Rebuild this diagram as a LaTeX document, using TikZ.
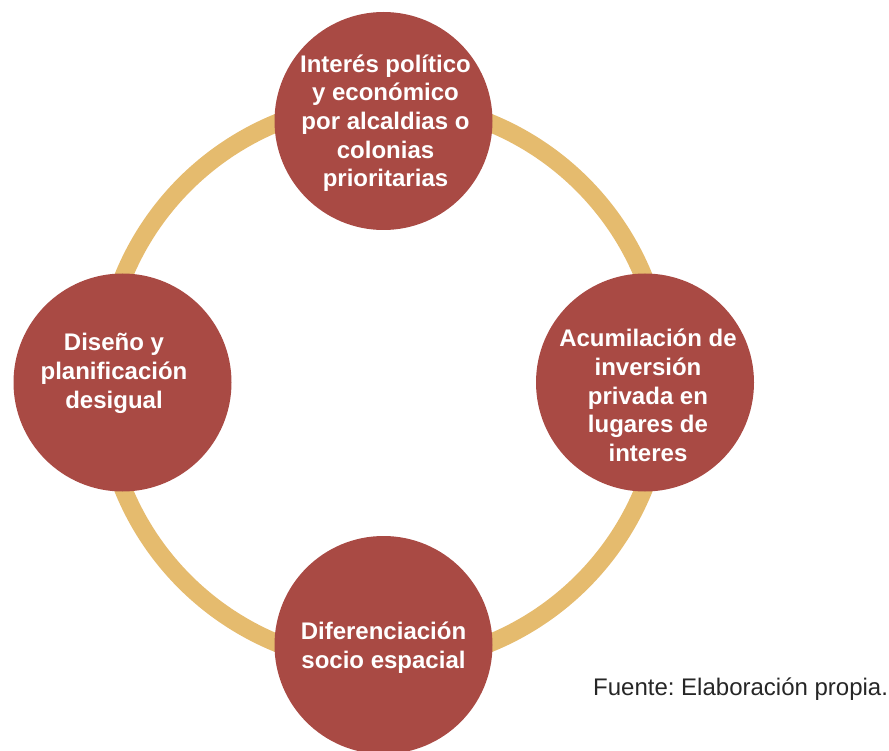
\documentclass[tikz,border=0pt]{standalone}
\usepackage{fontspec}
\setmainfont{Liberation Sans}
\frenchspacing
\definecolor{ringcol}{HTML}{E5BB6E}
\definecolor{circcol}{HTML}{A94A44}
\definecolor{srccol}{HTML}{262626}
\newcommand{\ls}{\rule[-6.6pt]{0pt}{28.6pt}}
\begin{document}
\begin{tikzpicture}[x=1pt,y=-1pt,
  ringline/.style={draw=ringcol,line width=18pt},
  stage/.style={circle,fill=circcol,draw=none,minimum size=218pt,inner sep=0pt},
  stagetext/.style={text=white,align=center,inner sep=0pt,font=\fontsize{24}{28.6}\selectfont\bfseries},
  srctext/.style={text=srccol,inner sep=0pt,anchor=base west,font=\fontsize{24}{28.6}\selectfont}]
\useasboundingbox (0,0) rectangle (889,751);
\coordinate (ctr) at (383.5,383);
\draw[ringline] (ctr) circle[radius=281pt];
\node[stage] (top) at (383.5,121) {};
\node[stage] (left) at (122.5,382.5) {};
\node[stage] (right) at (645,382.5) {};
\node[stage] (bottom) at (383.5,645) {};
\node[stagetext] (ttop) at (385.5,121.8) {\ls Interés político\\\ls y económico\\\ls por alcaldias o\\\ls colonias\\\ls prioritarias};
\node[stagetext] (tleft) at (114,371.8) {\ls Diseño y\\\ls planificación\\\ls desigual};
\node[stagetext] (tright) at (648,396.3) {\ls Acumilación de\\\ls inversión\\\ls privada en\\\ls lugares de\\\ls interes};
\node[stagetext] (tbottom) at (383.5,646.3) {\ls Diferenciación\\\ls socio espacial};
\node[srctext] (src) at (593,695) {Fuente: Elaboración propia.};
\end{tikzpicture}
\end{document}
